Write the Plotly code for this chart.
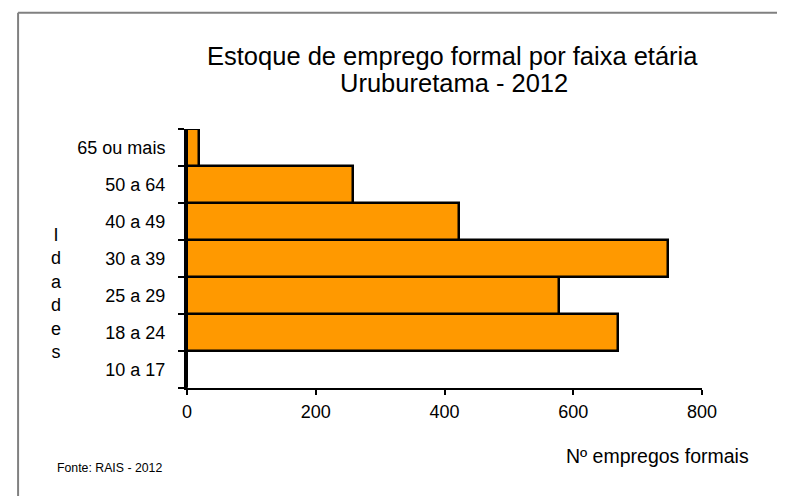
import plotly.graph_objects as go

categories = ["10 a 17", "18 a 24", "25 a 29", "30 a 39", "40 a 49", "50 a 64", "65 ou mais"]
values = [0, 669, 578, 747, 423, 258, 19]
x_ticks = [0, 200, 400, 600, 800]

FONT = "Liberation Sans, Arial, sans-serif"

fig = go.Figure(go.Bar(
    y=categories, x=values, orientation="h",
    marker=dict(color="#FF9900", line=dict(color="black", width=2.5)),
    hoverinfo="x+y",
))

FX0, FY1 = -0.328, 1.449

fig.update_layout(
    width=785, height=496,
    margin=dict(l=179, r=91, t=121, b=116, autoexpand=False),
    paper_bgcolor="white", plot_bgcolor="white",
    font=dict(family=FONT, color="black", size=18),
    bargap=0.0,
    showlegend=False,
    xaxis=dict(
        range=[0, 800], tickvals=x_ticks, ticks="outside", ticklen=5,
        tickwidth=2, tickcolor="black", showgrid=False, zeroline=False,
        showline=True, linecolor="black", linewidth=2,
        tickfont=dict(size=18, family=FONT), ticklabelstandoff=1,
        fixedrange=True,
    ),
    yaxis=dict(
        type="category", categoryorder="array", categoryarray=categories,
        ticks="outside", ticklen=6, tickwidth=2, tickcolor="black",
        tickson="boundaries", showgrid=False, zeroline=False,
        showline=True, linecolor="black", linewidth=3,
        tickfont=dict(size=18, family=FONT), ticklabelstandoff=15,
        fixedrange=True,
    ),
    shapes=[
        dict(type="line", xref="paper", yref="paper",
             x0=FX0, x1=FX0, y0=-0.6, y1=FY1,
             line=dict(color="#808080", width=2), layer="below"),
        dict(type="line", xref="paper", yref="paper",
             x0=FX0, x1=1.3, y0=FY1, y1=FY1,
             line=dict(color="#808080", width=2), layer="below"),
    ],
    annotations=[
        dict(text="Estoque de emprego formal por faixa etária", xref="paper", yref="paper",
             x=0.5155, y=1.281, xanchor="center", yanchor="middle",
             showarrow=False, font=dict(size=25.5, family=FONT)),
        dict(text="Uruburetama - 2012", xref="paper", yref="paper",
             x=0.519, y=1.177, xanchor="center", yanchor="middle",
             showarrow=False, font=dict(size=25.5, family=FONT)),
        dict(text="I<br>d<br>a<br>d<br>e<br>s", xref="paper", yref="paper",
             x=-0.254, y=0.363, xanchor="center", yanchor="middle",
             showarrow=False, font=dict(size=18, family=FONT), align="center"),
        dict(text="Nº empregos formais", xref="paper", yref="paper",
             x=1.095, y=-0.2625, xanchor="right", yanchor="middle",
             showarrow=False, font=dict(size=19.5, family=FONT)),
        dict(text="Fonte: RAIS - 2012", xref="paper", yref="paper",
             x=-0.256, y=-0.309, xanchor="left", yanchor="middle",
             showarrow=False, font=dict(size=12.3, family=FONT)),
    ],
)

fig.write_html("out.html")
